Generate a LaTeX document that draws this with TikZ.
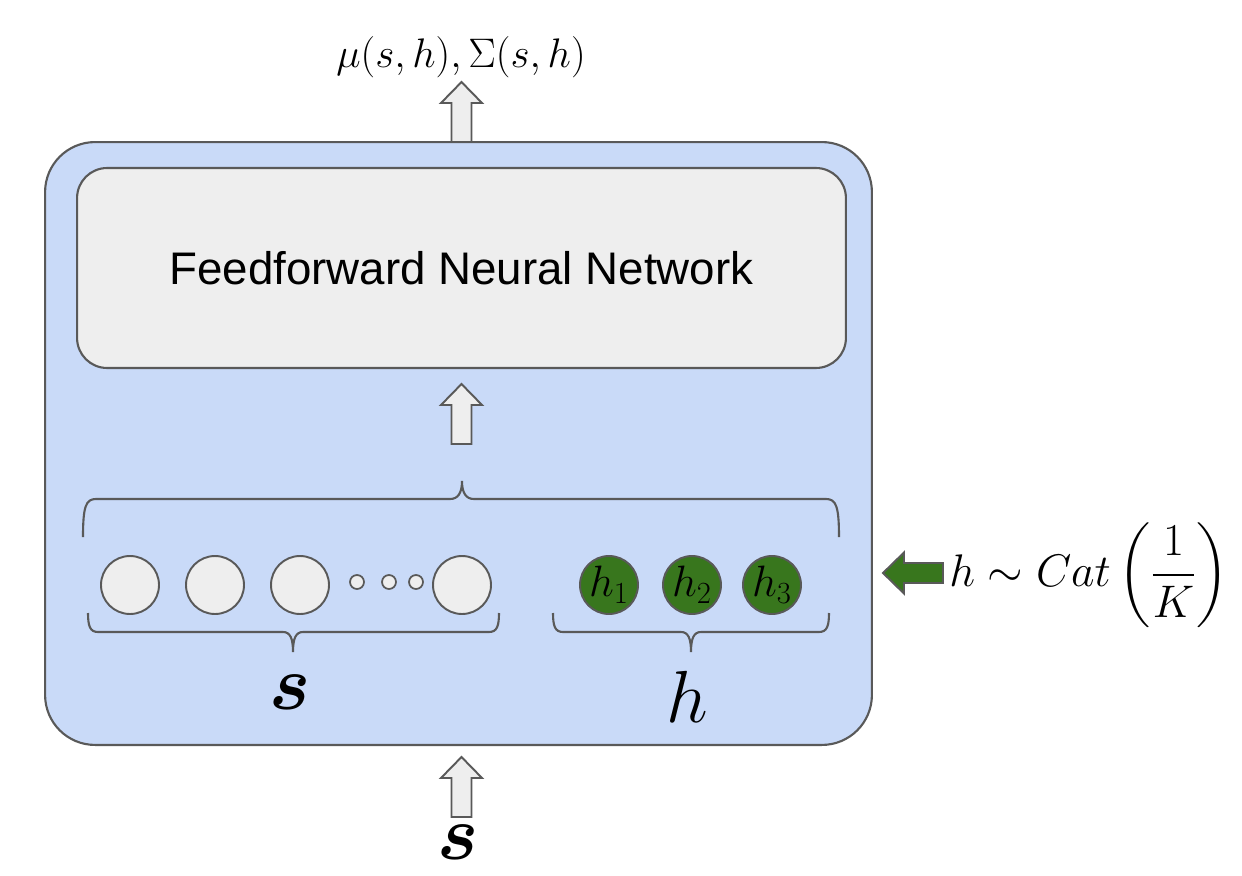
\RequirePackage{fix-cm}
\documentclass[tikz,border=0pt]{standalone}
\usepackage{amsmath}
\usepackage{fontspec}
\newfontfamily\arialfont{Liberation Sans}
\usetikzlibrary{positioning}

\definecolor{boxblue}{HTML}{C9DAF8}
\definecolor{cellgray}{HTML}{EEEEEE}
\definecolor{edgegray}{HTML}{595959}
\definecolor{hgreen}{HTML}{38761D}

\tikzset{
    outerbox/.style={draw=edgegray, line width=1.2pt, fill=boxblue, rounded corners=1cm,
        minimum width=16.54cm, minimum height=12.06cm},
    innerbox/.style={draw=edgegray, line width=1.2pt, fill=cellgray, rounded corners=0.6cm,
        minimum width=15.38cm, minimum height=4cm, font=\arialfont\fontsize{26}{31}\selectfont},
    unit/.style={circle, draw=edgegray, line width=1.1pt, fill=cellgray, minimum size=1.16cm, inner sep=0pt},
    hunit/.style={unit, fill=hgreen, font=\fontsize{25}{30}\selectfont},
    dot/.style={circle, draw=edgegray, line width=1pt, fill=cellgray, minimum size=0.28cm, inner sep=0pt},
    brace/.style={draw=edgegray, line width=1.2pt},
    slabel/.style={font=\fontsize{44}{50}\selectfont, inner sep=0pt},
    hlabel/.style={font=\fontsize{42}{48}\selectfont, inner sep=0pt},
    blockarrow/.pic={
        \draw[draw=edgegray, line width=1.1pt, pic actions] (-10,0) -- (-10,-39) -- (-20.5,-39) -- (0,-60)
            -- (20.5,-39) -- (10,-39) -- (10,0) -- cycle;
    }
}

\begin{document}
\begin{tikzpicture}[x=0.02cm, y=-0.02cm]
    \useasboundingbox (0,0) rectangle (1242,876);

    % network box
    \node[outerbox] (net) at (458.5,443.5) {};
    \node[innerbox] (ffnn) at (461.5,268) {Feedforward Neural Network};

    % input units
    \foreach \x [count=\i] in {130,215,300}
        \node[unit] (s\i) at (\x,585) {};
    \foreach \x [count=\i] in {357,389,416}
        \node[dot] (d\i) at (\x,582) {};
    \node[unit] (s4) at (462,585) {};
    \foreach \x [count=\i] in {609,692,772}
        \node[hunit] (h\i) at (\x,585) {$h_{\i}$};

    % braces
    \draw[brace] (83,537) .. controls (83,506) and (86,499) .. (96,499) -- (450,499)
        .. controls (458,499) and (462,493) .. (462,481)
        .. controls (462,493) and (466,499) .. (474,499) -- (826,499)
        .. controls (836,499) and (839,506) .. (839,537);
    \draw[brace] (88,613) .. controls (88,626) and (90,632) .. (98,632) -- (283,632)
        .. controls (290,632) and (293,638) .. (293,652)
        .. controls (293,638) and (296,632) .. (303,632) -- (489,632)
        .. controls (497,632) and (499,626) .. (499,613);
    \draw[brace] (553,613) .. controls (553,626) and (555,632) .. (563,632) -- (681,632)
        .. controls (688,632) and (691,638) .. (691,652)
        .. controls (691,638) and (694,632) .. (701,632) -- (819,632)
        .. controls (827,632) and (829,626) .. (829,613);

    % labels
    \node[slabel, anchor=base] (slab) at (290,709) {$\boldsymbol{s}$};
    \node[hlabel, anchor=base] (hlab) at (687,722) {$h$};
    \node[slabel, anchor=base] (sin) at (458,859) {$\boldsymbol{s}$};
    \node[font=\fontsize{23.5}{28}\selectfont] (out) at (461,57) {$\mu(s,h), \Sigma(s,h)$};
    \node[anchor=west, inner sep=0pt, font=\fontsize{26}{31}\selectfont] (prior) at (949,575)
        {$h \sim Cat\left(\dfrac{1}{K}\right)$};

    % block arrows
    \pic[fill=cellgray] at (461.5,142) {blockarrow};
    \pic[fill=cellgray] at (461.5,444) {blockarrow};
    \pic[fill=cellgray] at (461.5,817) {blockarrow};
    \pic[fill=hgreen, rotate=90] at (943,573) {blockarrow};
\end{tikzpicture}
\end{document}
